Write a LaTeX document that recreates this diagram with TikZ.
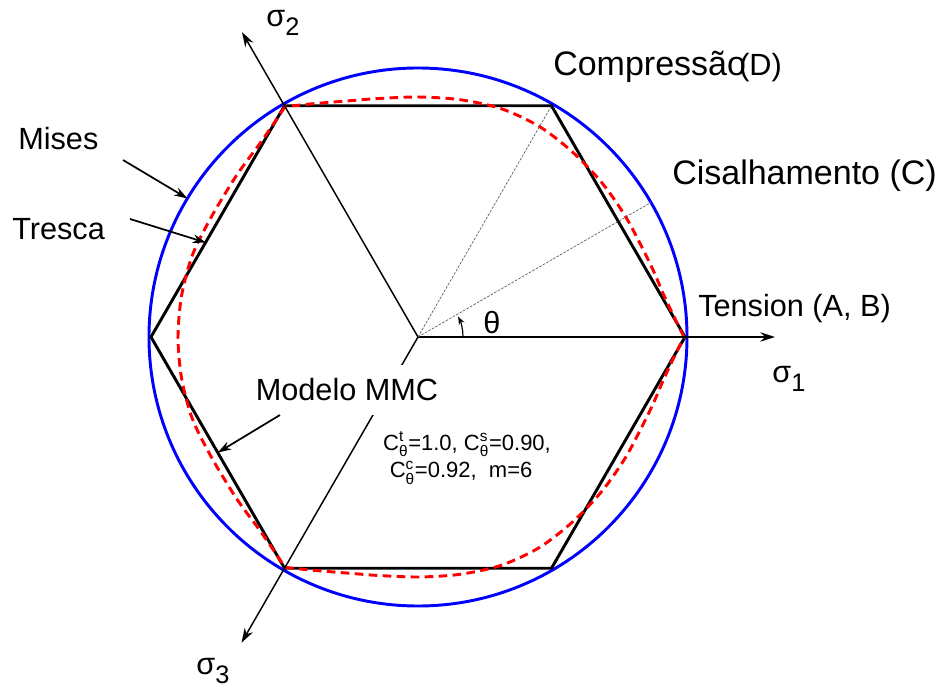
\documentclass[tikz,border=0pt]{standalone}
\usepackage{amsmath}
\usepackage{fontspec}
\setmainfont{Liberation Sans}
\usetikzlibrary{arrows.meta}

\newcommand{\sigaxis}[1]{σ\raisebox{-0.55ex}{\fontsize{19}{19}\selectfont #1}}
\newcommand{\Cth}[1]{C$^{\text{#1}}_{\text{θ}}$}

\begin{document}
\begin{tikzpicture}[x=0.75pt,y=0.75pt,
    mises/.style={draw=blue, line width=2.2pt},
    tresca/.style={draw=black, line width=2.2pt},
    mmc/.style={draw=red, line width=2.2pt, dash pattern=on 6.5pt off 4pt},
    axis/.style={line width=1.1pt, -{Stealth[length=11pt,width=7pt]}},
    guide/.style={draw=gray!70!black, line width=0.5pt, dash pattern=on 2pt off 1pt},
    pointer/.style={line width=1.3pt, -{Stealth[length=10pt,width=6.5pt]}},
    thetaarrow/.style={line width=0.9pt, -{Stealth[length=6pt,width=4.5pt]}},
    lbl/.style={inner sep=0pt, font=\fontsize{23}{27}\selectfont},
    biglbl/.style={inner sep=0pt, font=\fontsize{25.5}{30}\selectfont}]
  \useasboundingbox (0,0) rectangle (940,690);

  \coordinate (O) at (418,353);

  \begin{scope}[shift={(O)}]
    % Mises circle and Tresca hexagon
    \draw[mises] (0,0) circle[radius=269];
    \draw[tresca] (0:267) \foreach \a in {60,120,...,300} {-- (\a:267)} -- cycle;

    % MMC surface, three arcs between the tension/compression corners
    \draw[mmc] plot[smooth] coordinates {(0:266) (5:256) (10:249) (15:245) (20:242)
      (30:240) (40:240) (50:241) (60:243) (70:243) (80:241) (90:240) (100:242)
      (105:245) (110:250) (115:257) (120:266)};
    \draw[mmc] plot[smooth] coordinates {(120:266) (125:256) (130:249) (135:245)
      (140:242) (150:239) (160:240) (170:240) (180:240) (190:240) (200:240)
      (210:239) (220:242) (225:245) (230:249) (235:256) (240:266)};
    \draw[mmc] plot[smooth] coordinates {(240:266) (245:257) (250:250) (255:245)
      (260:242) (270:240) (280:241) (290:243) (300:243) (310:241) (320:240)
      (330:240) (340:242) (345:245) (350:249) (355:256) (360:266)};

    \coordinate (s1) at (357,0);
    \coordinate (s2) at (120:352);
    \coordinate (s3) at (240:353);
    \coordinate (compEnd) at (60:267);
    \coordinate (shearEnd) at (30:269);
    \coordinate (misesTip) at (149:269);
    \coordinate (trescaTip) at (156:232);
    \coordinate (mmcTip) at (210:231);

    % Lode angle
    \draw[thetaarrow] (0:45) arc[start angle=0, end angle=27, radius=45];
  \end{scope}

  % Axes
  \foreach \tip in {s1,s2,s3} \draw[axis] (O) -- (\tip);
  \draw[guide] (O) -- (compEnd);
  \draw[guide] (O) -- (shearEnd);

  % Labels
  \node[lbl] (s1Lbl) at (789,311) {\sigaxis{1}};
  \node[lbl] (s2Lbl) at (283,667) {\sigaxis{2}};
  \node[lbl] (s3Lbl) at (213,19) {\sigaxis{3}};
  \node[lbl] (thetaLbl) at (492,367) {θ};

  \node[biglbl, anchor=base west] (compLbl) at (553,614) {Compressão};
  \node[lbl, anchor=base west] (compTag) at (739,614) {(D)};
  \node[biglbl, anchor=base west] (shearLbl) at (672,505) {Cisalhamento (C)};
  \node[lbl, anchor=base west] (tensLbl) at (698,373) {Tension (A, B)};

  \node[lbl, anchor=base west] (misesLbl) at (18,540) {Mises};
  \node[lbl, anchor=base west] (trescaLbl) at (12,450) {Tresca};
  \node[lbl, fill=white, minimum width=150pt, minimum height=37pt] (mmcLbl) at (347,300) {Modelo MMC};
  \node[inner sep=0pt, align=left, font=\fontsize{16.5}{20.5}\selectfont] (params) at (467,232)
    {\Cth{t}=1.0, \Cth{s}=0.90,\\\hspace*{5pt}\Cth{c}=0.92,\ \ m=6};

  \coordinate (misesTail) at (123,530);
  \coordinate (trescaTail) at (130,471);
  \coordinate (mmcTail) at (280,275);
  \foreach \tail/\tip in {misesTail/misesTip,trescaTail/trescaTip,mmcTail/mmcTip}
    \draw[pointer] (\tail) -- (\tip);
\end{tikzpicture}
\end{document}
